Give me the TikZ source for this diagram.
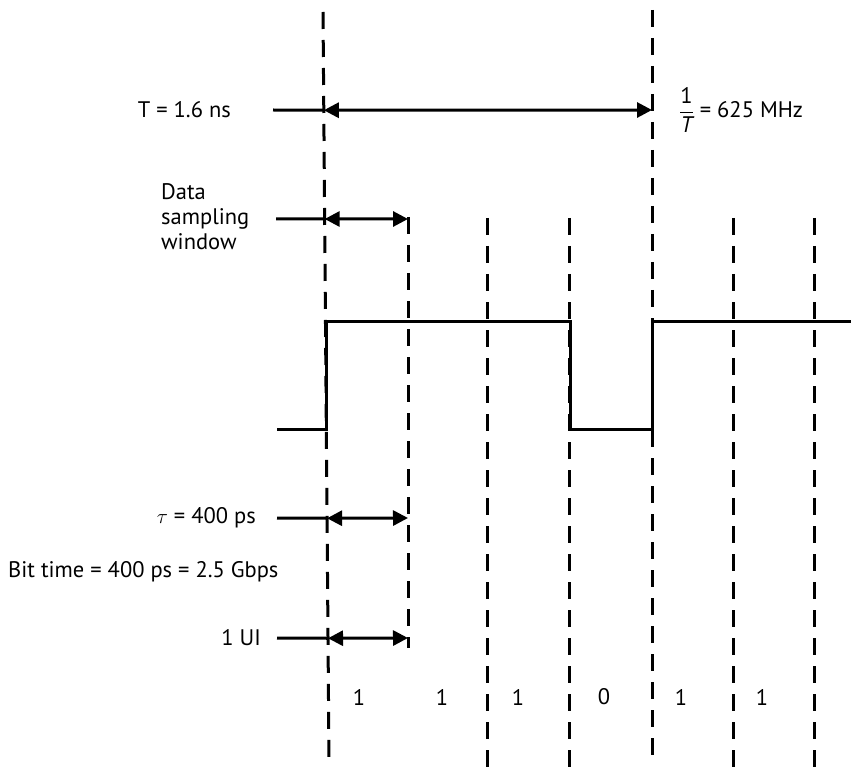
\documentclass[tikz,border=0pt]{standalone}
\usepackage{amsmath}
\usepackage{fontspec}
\setmainfont{PT Sans}
\usetikzlibrary{arrows.meta,positioning,calc}

\begin{document}
\begin{tikzpicture}[x=1pt, y=-1pt,
    gridline/.style={line width=3pt, dash pattern=on 17pt off 11pt},
    wave/.style={line width=3pt, line join=miter},
    lead/.style={line width=3pt},
    dimarrow/.style={line width=3pt, {Triangle[length=15pt,width=15pt]}-{Triangle[length=15pt,width=15pt]}},
    lbl/.style={font=\fontsize{22.5}{25}\selectfont, inner sep=0pt},
]
\useasboundingbox (0,0) rectangle (851,767);

% Clock edges (the left one leans slightly)
\coordinate (g0top) at (323,12);
\coordinate (g0bot) at (329,762);
\draw[gridline] (g0top) -- (g0bot);
\path (g0top) -- (g0bot)
    coordinate[pos=0.131] (g0T)
    coordinate[pos=0.276] (g0D)
    coordinate[pos=0.675] (g0Tau)
    coordinate[pos=0.835] (g0U);
\coordinate (g4top) at (652,10);
\coordinate (g4bot) at (652,755);
\draw[gridline] (g4top) -- (g4bot);
\coordinate (g4T) at (652,110);

% Bit boundaries
\coordinate (g1top) at (408,217);
\coordinate (g1bot) at (408,648);
\draw[gridline] (g1top) -- (g1bot);
\foreach \gx in {487,569,733,814}
    \draw[gridline] (\gx,218) -- (\gx,767);
\coordinate (g1D) at (408,219);
\coordinate (g1Tau) at (408,518);
\coordinate (g1U) at (408,638);

% Data waveform
\draw[wave] (277,429) -- (326,429) -- (326,321) -- (570,321) -- (570,429)
    -- (652,429) -- (652,321) -- (851,321);

% Labels
\node[lbl, anchor=east] (lblT) at (231,110) {T = 1.6 ns};
\node[lbl, anchor=west] (lblF) at (679,110) {$\dfrac{\text{1}}{\textit{T}}$ = 625 MHz};
\node[lbl, anchor=west, align=left] (lblD) at (161,217) {Data\\sampling\\window};
\node[lbl, anchor=east] (lblTau) at (256,518) {$\tau$ = 400 ps};
\node[lbl, anchor=west] (lblBit) at (8,572) {Bit time = 400 ps = 2.5 Gbps};
\node[lbl, anchor=east] (lblUI) at (261,638) {1 UI};

% Lead lines from labels
\coordinate[right=42pt of lblT] (leadT);
\coordinate (leadD) at (276,219);
\coordinate[right=21pt of lblTau] (leadTau);
\coordinate[right=16pt of lblUI] (leadU);
\draw[lead] (leadT) -- (g0T);
\draw[lead] (leadD) -- (g0D);
\draw[lead] (leadTau) -- (g0Tau);
\draw[lead] (leadU) -- (g0U);

% Dimension arrows
\draw[dimarrow] (g0T) -- (g4T);
\draw[dimarrow] (g0D) -- (g1D);
\draw[dimarrow] (g0Tau) -- (g1Tau);
\draw[dimarrow] (g0U) -- (g1U);

% Bit values
\foreach \bx/\bv [count=\i] in {359/1,442/1,518/1,604/0,681/1,762/1}
    \node[lbl] (bit\i) at (\bx,697) {\bv};

\end{tikzpicture}
\end{document}
